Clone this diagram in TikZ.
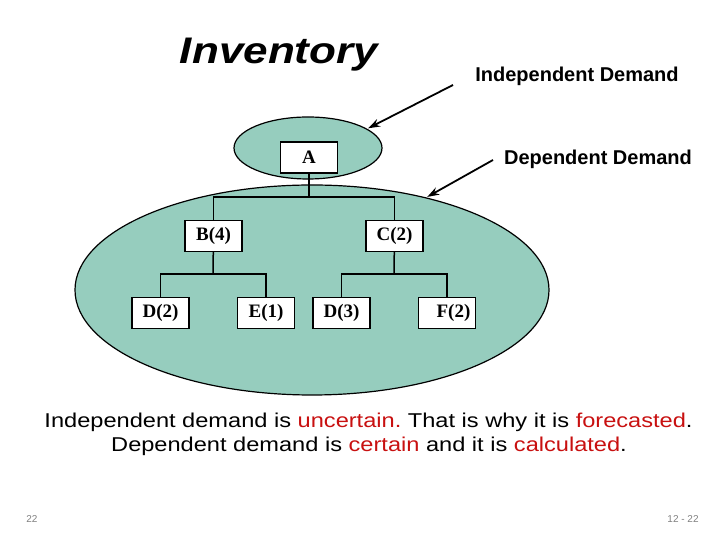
\documentclass[tikz,border=0pt]{standalone}
\usepackage{fontspec}
\setmainfont{Liberation Serif}
\newfontfamily\arial{Liberation Sans}
\usepackage{tikz}
\usetikzlibrary{arrows.meta,shapes.geometric}
\definecolor{seafoam}{RGB}{150,205,190}
\definecolor{alertred}{RGB}{200,16,16}
\frenchspacing

\begin{document}
\begin{tikzpicture}[x=1pt, y=1pt, >={Stealth[length=12pt, width=8pt]},
  part/.style={draw, fill=white, line width=1.3pt, minimum width=57pt, minimum height=31pt, inner sep=0pt, font=\fontsize{19}{19}\selectfont\bfseries},
  zone/.style={ellipse, draw, fill=seafoam, line width=1.2pt, inner sep=0pt},
  link/.style={line width=1.5pt},
  pointer/.style={->, line width=1.8pt, shorten >=1pt},
  remark/.style={font=\arial\fontsize{20}{20}\selectfont, xscale=1.18, transform shape}]
\path[use as bounding box] (0,0) rectangle (720,540);
\node[zone, minimum width=474pt, minimum height=210pt] (dep) at (312,250) {};
\node[zone, minimum width=148pt, minimum height=62pt] (indep) at (308,392) {};
% tree of parts
\node[part] (A) at (309,382.5) {A};
\node[part] (B) at (213.5,304) {B(4)};
\node[part] (C) at (394.5,304) {C(2)};
\node[part] (D2) at (160.5,227) {D(2)};
\node[part] (E1) at (266,227) {E(1)};
\node[part] (D3) at (341.5,227) {D(3)};
\node[part] (F2) at (447,227) {\hspace*{13pt}\raisebox{-4pt}{F(2)}};
\coordinate (busA) at (309,343);
\coordinate (busB) at (213,266);
\coordinate (busC) at (394,266);
\draw[link] (A) -- (busA);
\draw[link] (B.north) |- (busA) -| (C.north);
\draw[link] (B) -- (busB);
\draw[link] (D2.north) |- (busB) -| (E1.north);
\draw[link] (C) -- (busC);
\draw[link] (D3.north) |- (busC) -| (F2.north);
% labels and pointers
\node[font=\arial\fontsize{37}{37}\selectfont\bfseries\itshape, xscale=1.19, transform shape] (title) at (279,485) {Inventory};
\node[font=\arial\fontsize{20}{20}\selectfont\bfseries] (indlabel) at (577,464) {Independent Demand};
\node[font=\arial\fontsize{20}{20}\selectfont\bfseries] (deplabel) at (598,381) {Dependent Demand};
\coordinate (indstart) at (453,455);
\coordinate (depstart) at (493,380);
\draw[pointer] (indstart) -- (indep.18);
\draw[pointer] (depstart) -- (dep.39.5);
\node[remark] (line1) at (368.5,118) {Independent demand is \textcolor{alertred}{uncertain.} That is why it is \textcolor{alertred}{forecasted}.};
\node[remark] (line2) at (369,94) {Dependent demand is \textcolor{alertred}{certain} and it is \textcolor{alertred}{calculated}.};
\node[font=\arial\fontsize{10}{10}\selectfont, text=gray] (pageno) at (32,21) {22};
\node[font=\arial\fontsize{10}{10}\selectfont, text=gray] (slideno) at (683,21) {12 - 22};
\end{tikzpicture}
\end{document}
